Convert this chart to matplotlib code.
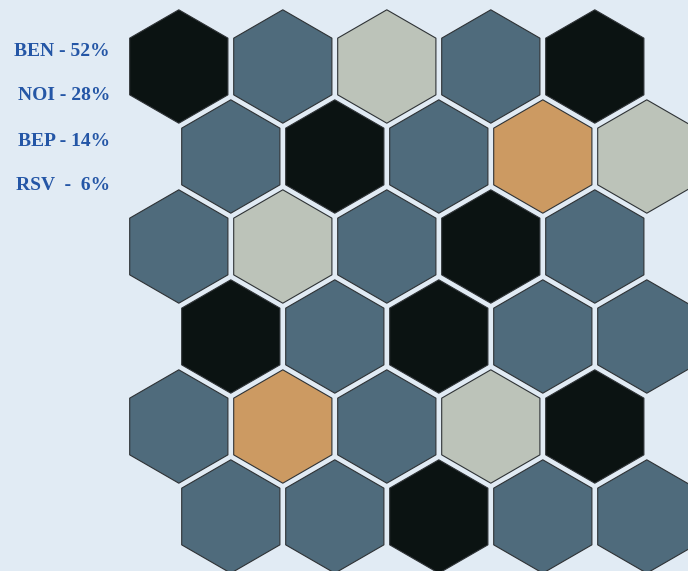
import numpy as np
import matplotlib.pyplot as plt
from matplotlib.patches import RegularPolygon

# Categorias e percentuais
labels = ['BEN', 'NOI', 'BEP', 'RSV']
percents = [52, 28, 14, 6]
colors = ['#4f6b7c', '#0b1312', '#bcc3b9', '#cc9a62']

# Grade de hexagonos (indice da categoria por linha)
grid = [
    [1, 0, 2, 0, 1],
    [0, 1, 0, 3, 2],
    [0, 2, 0, 1, 0],
    [1, 0, 1, 0, 0],
    [0, 3, 0, 2, 1],
    [0, 0, 1, 0, 0],
]

bg = '#e1ebf4'
fig = plt.figure(figsize=(6.88, 5.71), dpi=100, facecolor=bg)
ax = fig.add_axes([0, 0, 1, 1])
ax.set_facecolor(bg)
ax.set_xlim(0, 688)
ax.set_ylim(571, 0)
ax.set_aspect('equal')
ax.axis('off')

# Desenhar os hexagonos
x0, y0 = 178.8, 66.5
dx, dy = 104, 90
for r, row in enumerate(grid):
    for c, k in enumerate(row):
        cx = x0 + c * dx + (dx / 2 if r % 2 else 0)
        cy = y0 + r * dy
        hexa = RegularPolygon((cx, cy), numVertices=6, radius=56.7,
                              orientation=0, facecolor=colors[k],
                              edgecolor='#2e3235', linewidth=0.8)
        ax.add_patch(hexa)

# Legenda em texto
names = [f'{l} - {p}%' for l, p in zip(labels, percents)]
names[3] = f'{labels[3]}  -  {percents[3]}%'
for i, t in enumerate(names):
    ax.text(110, 51 + i * 45, t, ha='right', va='center',
            fontsize=14, fontweight='bold', color='#2456a6',
            family='Liberation Serif')

fig.savefig('out.png', dpi=100, facecolor=bg)
